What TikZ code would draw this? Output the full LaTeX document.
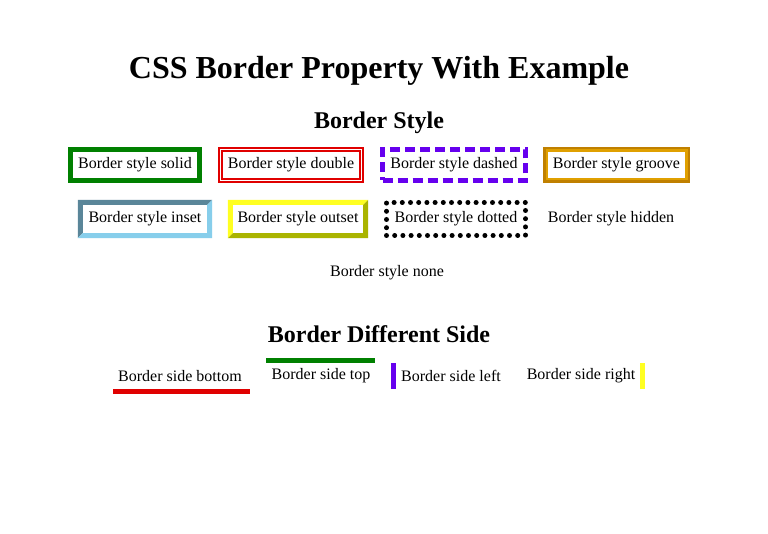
\documentclass[tikz,border=0pt]{standalone}
\usepackage{fontspec}
\setmainfont{Liberation Serif}
\usetikzlibrary{positioning}
\definecolor{cssGreen}{HTML}{008000}
\definecolor{cssRed}{HTML}{E00000}
\definecolor{cssViolet}{HTML}{6600EE}
\definecolor{cssGrooveDark}{HTML}{C08000}
\definecolor{cssGrooveLight}{HTML}{E0A000}
\definecolor{cssInsetDark}{HTML}{5A8699}
\definecolor{cssInsetLight}{HTML}{87CEEB}
\definecolor{cssYellow}{HTML}{FFFF22}
\definecolor{cssOlive}{HTML}{AAB400}
\tikzset{
  txt/.style={font=\fontsize{16}{19}\selectfont, inner sep=0pt},
  bordered/.style={txt, line width=5pt, minimum height=31pt},
  bevelled/.style={txt, minimum height=38pt}
}
% two-tone border for inset / outset
\newcommand\bevelbox[3]{%
  \fill[#2] (#1.south west) -- (#1.north west) -- (#1.north east)
    -- ([shift={(-5,5)}]#1.north east) -- ([shift={(5,5)}]#1.north west)
    -- ([shift={(5,-5)}]#1.south west) -- cycle;
  \fill[#3] (#1.south west) -- (#1.south east) -- (#1.north east)
    -- ([shift={(-5,5)}]#1.north east) -- ([shift={(-5,-5)}]#1.south east)
    -- ([shift={(5,-5)}]#1.south west) -- cycle;}
\begin{document}
\begin{tikzpicture}[x=1pt, y=-1pt]
\useasboundingbox[fill=white] (0,0) rectangle (768,534);

% === Titles ===
\node[font=\fontsize{32}{38}\selectfont\bfseries] (title) at (379,71) {CSS Border Property With Example};
\node[font=\fontsize{24}{29}\selectfont\bfseries] (styleHead) at (379,123) {Border Style};
\node[font=\fontsize{24}{29}\selectfont\bfseries] (sideHead) at (379,334) {Border Different Side};

% === First row ===
\node[bordered, draw=cssGreen, minimum width=129pt] (solid) at (135,165) {Border style solid};
\node[bordered, draw=cssRed, line width=1.6pt, double=white, double distance=1.8pt, minimum width=141pt, minimum height=31pt] (double) at (291,165) {Border style double};
\node[bordered, draw=cssViolet, dash pattern=on 10pt off 5pt, minimum width=143pt] (dashed) at (454,165) {Border style dashed};
\node[bordered, draw=cssGrooveDark, minimum width=142pt] (groove) at (616.5,165) {Border style groove};
\draw[cssGrooveLight, line width=2.5pt] ([shift={(3.75,3.75)}]groove.north west) rectangle ([shift={(-3.75,-3.75)}]groove.south east);

% === Second row ===
\node[bevelled, minimum width=134pt] (inset) at (145,219) {Border style inset};
\bevelbox{inset}{cssInsetDark}{cssInsetLight}
\node[bevelled, minimum width=140pt] (outset) at (298,219) {Border style outset};
\bevelbox{outset}{cssYellow}{cssOlive}
\node[bordered, draw=black, line cap=round, dash pattern=on 0pt off 8.2pt, minimum width=139pt, minimum height=33pt] (dotted) at (456,219) {Border style dotted};
\node[txt] (hidden) at (611,219) {Border style hidden};
\node[txt] (none) at (387,273) {Border style none};

% === Different sides ===
\node[txt] (bottom) at (180,376) {Border side bottom};
\node[txt] (top) at (321,376) {Border side top};
\node[txt] (left) at (451,376) {Border side left};
\node[txt] (right) at (581,376) {Border side right};
\draw[cssRed, line width=5pt] (113,391.5) -- (250,391.5);
\draw[cssGreen, line width=5pt] (266,360.5) -- (375,360.5);
\draw[cssViolet, line width=5pt] (393.5,363) -- (393.5,389);
\draw[cssYellow, line width=5pt] (642.5,363) -- (642.5,389);
\end{tikzpicture}
\end{document}
